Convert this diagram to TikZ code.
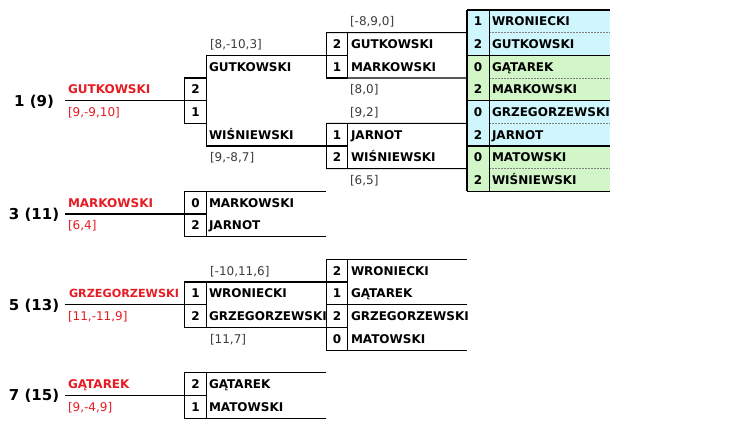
\documentclass[tikz,border=0pt]{standalone}
\usepackage{fontspec}
\setmainfont{DejaVu Sans}
\definecolor{seedred}{RGB}{230,28,36}
\definecolor{notegray}{RGB}{60,60,60}
\definecolor{tabblue}{RGB}{206,246,252}
\definecolor{tabgreen}{RGB}{210,246,200}
\begin{document}
\begin{tikzpicture}[x=1pt, y=-22.67pt, line width=1.1pt,
    every node/.style={inner sep=0pt, outer sep=0pt},
    player/.style={anchor=west, text height=8.75pt, text depth=0pt, font=\fontsize{12}{14}\selectfont\bfseries},
    remark/.style={anchor=west, text height=8.75pt, text depth=0pt, text=notegray, font=\fontsize{12}{14}\selectfont},
    leader/.style={player, text=seedred},
    leadremark/.style={remark, text=seedred},
    score/.style={text height=8.75pt, text depth=0pt, font=\fontsize{12}{14}\selectfont\bfseries},
    seed/.style={text height=10.9pt, text depth=0pt, font=\fontsize{15}{18}\selectfont\bfseries},
    scorebox/.style={draw, minimum width=21.3pt, minimum height=45.34pt},
    tablerow/.style={minimum width=143pt, minimum height=22.67pt},
    sep/.style={line width=0.6pt, gray, dash pattern=on 1.5pt off 1.5pt}]
  \useasboundingbox (0,-0.441) rectangle (750,18.484);
  \node[tablerow, fill=tabblue] (t0) at (538.5,0.5) {};
  \node[tablerow, fill=tabblue] (t1) at (538.5,1.5) {};
  \node[tablerow, fill=tabgreen] (t2) at (538.5,2.5) {};
  \node[tablerow, fill=tabgreen] (t3) at (538.5,3.5) {};
  \node[tablerow, fill=tabblue] (t4) at (538.5,4.5) {};
  \node[tablerow, fill=tabblue] (t5) at (538.5,5.5) {};
  \node[tablerow, fill=tabgreen] (t6) at (538.5,6.5) {};
  \node[tablerow, fill=tabgreen] (t7) at (538.5,7.5) {};
  \coordinate (tdiv) at (489.3,0);
  \coordinate (tdivb) at (489.3,8);

  \node[seed] (p1) at (34,4) {1 (9)};
  \node[seed] (p3) at (34,9) {3 (11)};
  \node[seed] (p5) at (34,13) {5 (13)};
  \node[seed] (p7) at (34,17) {7 (15)};
  \node[leader] (w1) at (68,3.5) {GUTKOWSKI};
  \node[leadremark] (r1) at (68,4.5) {[9,-9,10]};
  \node[leader] (w3) at (68,8.5) {MARKOWSKI};
  \node[leadremark] (r3) at (68,9.5) {[6,4]};
  \node[leader, font=\fontsize{11.2}{13}\selectfont\bfseries] (w5) at (69,12.5) {GRZEGORZEWSKI};
  \node[leadremark] (r5) at (68,13.5) {[11,-11,9]};
  \node[leader] (w7) at (68,16.5) {GĄTAREK};
  \node[leadremark] (r7) at (68,17.5) {[9,-4,9]};

  \node[scorebox] (s1) at (195.5,4) {};
  \node[scorebox] (s3) at (195.5,9) {};
  \node[scorebox] (s5) at (195.5,13) {};
  \node[scorebox] (s7) at (195.5,17) {};
  \node[score] (s1a) at (195.5,3.5) {2};
  \node[score] (s1b) at (195.5,4.5) {1};
  \node[score] (s3a) at (195.5,8.5) {0};
  \node[score] (s3b) at (195.5,9.5) {2};
  \node[score] (s5a) at (195.5,12.5) {1};
  \node[score] (s5b) at (195.5,13.5) {2};
  \node[score] (s7a) at (195.5,16.5) {2};
  \node[score] (s7b) at (195.5,17.5) {1};

  \node[remark] (m1) at (210,1.5) {[8,-10,3]};
  \node[player] (a1) at (209,2.5) {GUTKOWSKI};
  \node[player] (b1) at (209,5.5) {WIŚNIEWSKI};
  \node[remark] (m2) at (210,6.5) {[9,-8,7]};
  \node[player] (a3) at (209,8.5) {MARKOWSKI};
  \node[player] (b3) at (209,9.5) {JARNOT};
  \node[remark] (m5) at (210,11.5) {[-10,11,6]};
  \node[player] (a5) at (209,12.5) {WRONIECKI};
  \node[player] (b5) at (209,13.5) {GRZEGORZEWSKI};
  \node[remark] (m6) at (210,14.5) {[11,7]};
  \node[player] (a7) at (209,16.5) {GĄTAREK};
  \node[player] (b7) at (209,17.5) {MATOWSKI};

  \node[scorebox] (q1) at (337,2) {};
  \node[scorebox] (q2) at (337,6) {};
  \node[scorebox, minimum height=90.68pt] (q5) at (337,13) {};
  \node[score] (q1a) at (337,1.5) {2};
  \node[score] (q1b) at (337,2.5) {1};
  \node[score] (q2a) at (337,5.5) {1};
  \node[score] (q2b) at (337,6.5) {2};
  \node[score] (q5a) at (337,11.5) {2};
  \node[score] (q5b) at (337,12.5) {1};
  \node[score] (q5c) at (337,13.5) {2};
  \node[score] (q5d) at (337,14.5) {0};
  \node[remark] (k1) at (350,0.5) {[-8,9,0]};
  \node[player] (c1) at (351,1.5) {GUTKOWSKI};
  \node[player] (d1) at (351,2.5) {MARKOWSKI};
  \node[remark] (k2) at (350,3.5) {[8,0]};
  \node[remark] (k3) at (350,4.5) {[9,2]};
  \node[player] (c2) at (351,5.5) {JARNOT};
  \node[player] (d2) at (351,6.5) {WIŚNIEWSKI};
  \node[remark] (k4) at (350,7.5) {[6,5]};
  \node[player] (c5) at (351,11.5) {WRONIECKI};
  \node[player] (d5) at (351,12.5) {GĄTAREK};
  \node[player] (e5) at (351,13.5) {GRZEGORZEWSKI};
  \node[player] (f5) at (351,14.5) {MATOWSKI};

  \node[score] (n0) at (478,0.5) {1};
  \node[score] (n1) at (478,1.5) {2};
  \node[score] (n2) at (478,2.5) {0};
  \node[score] (n3) at (478,3.5) {2};
  \node[score] (n4) at (478,4.5) {0};
  \node[score] (n5) at (478,5.5) {2};
  \node[score] (n6) at (478,6.5) {0};
  \node[score] (n7) at (478,7.5) {2};
  \node[player] (g0) at (492,0.5) {WRONIECKI};
  \node[player] (g1) at (492,1.5) {GUTKOWSKI};
  \node[player] (g2) at (492,2.5) {GĄTAREK};
  \node[player] (g3) at (492,3.5) {MARKOWSKI};
  \node[player] (g4) at (492,4.5) {GRZEGORZEWSKI};
  \node[player] (g5) at (492,5.5) {JARNOT};
  \node[player] (g6) at (492,6.5) {MATOWSKI};
  \node[player] (g7) at (492,7.5) {WIŚNIEWSKI};

  \coordinate (l1) at (65,4);
  \coordinate (l3) at (65,9);
  \coordinate (l5) at (65,13);
  \coordinate (l7) at (65,17);
  \begin{scope}
    \draw (l1) -- (s1.west) -- (s1.east);
    \draw (l3) -- (s3.west) -- (s3.east);
    \draw (l5) -- (s5.west) -- (s5.east);
    \draw (l7) -- (s7.west) -- (s7.east);
    \draw (q1.west) -| (s1.east) |- (q2.west);
    \draw (s3.north west) -- (s3.north west -| q1.west);
    \draw (s3.south west) -- (s3.south west -| q1.west);
    \draw (s5.north west) -- (s5.north west -| q5.east);
    \draw (s5.south west) -- (s5.south west -| q5.east);
    \draw (s7.north west) -- (s7.north west -| q1.west);
    \draw (s7.south west) -- (s7.south west -| q1.west);
    \draw (q1.west) -- (q1.east);
    \draw (q2.west) -- (q2.east);
    \draw (q1.north west) -- (t0.south west);
    \draw (q1.south west) -- (t2.south west);
    \draw (q2.north west) -- (t4.south west);
    \draw (q2.south west) -- (t6.south west);
    \draw (q5.north west) -- (q5.north west -| t0.west);
    \draw (q5.west) -- (q5.west -| t0.west);
    \draw (q5.south west) -- (q5.south west -| t0.west);
  \end{scope}
  \begin{scope}
    \draw[sep] (tdiv |- t0.south) -- (t0.south east);
    \draw[sep] (tdiv |- t2.south) -- (t2.south east);
    \draw[sep] (tdiv |- t4.south) -- (t4.south east);
    \draw[sep] (tdiv |- t6.south) -- (t6.south east);
    \draw (t0.north west) -- (t0.north east);
    \draw (t1.south west) -- (t1.south east);
    \draw (t3.south west) -- (t3.south east);
    \draw (t5.south west) -- (t5.south east);
    \draw (t7.south west) -- (t7.south east);
    \draw (t0.north west) -- (t7.south west);
    \draw (tdiv) -- (tdivb);
  \end{scope}
\end{tikzpicture}
\end{document}
